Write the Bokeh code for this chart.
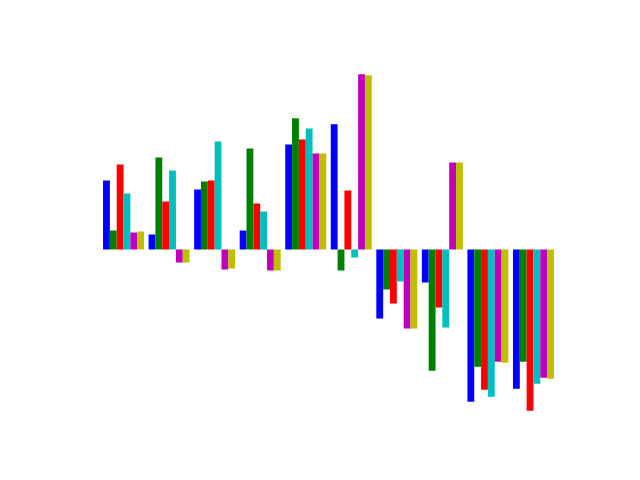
from bokeh.plotting import figure
from bokeh.models import ColumnDataSource, Range1d
from bokeh.transform import dodge
from bokeh.embed import file_html
from bokeh.resources import INLINE

groups = [0, 1, 2, 3, 4, 5, 6, 7, 8, 9]
series_b = [69, 15, 60, 19, 105, 125, -69, -33, -152, -139]
series_g = [19, 92, 68, 101, 131, -21, -40, -121, -117, -112]
series_r = [85, 48, 69, 46, 110, 59, -54, -58, -140, -161]
series_c = [56, 79, 108, 38, 121, -8, -32, -78, -147, -134]
series_m = [17, -13, -20, -21, 96, 175, -79, 87, -112, -128]
series_y = [18, -13, -19, -21, 96, 174, -79, 87, -113, -129]

series = [series_b, series_g, series_r, series_c, series_m, series_y]
colors = ["#0000ff", "#008000", "#ff0000", "#00bfbf", "#bf00bf", "#bfbf00"]
bar_w = 0.15

data = {"x": groups}
for j, s in enumerate(series):
    data[f"s{j}"] = s
source = ColumnDataSource(data)

p = figure(width=640, height=480, frame_width=496, frame_height=370,
           min_border_left=80, min_border_right=64, min_border_top=57, min_border_bottom=53,
           output_backend="svg", toolbar_location=None,
           x_range=Range1d(-0.57, 10.32), y_range=Range1d(-177.8, 191.8))
p.axis.visible = False
p.grid.visible = False
p.outline_line_color = None
p.background_fill_color = "white"
p.border_fill_color = "white"

for j, c in enumerate(colors):
    p.vbar(x=dodge("x", j * bar_w, range=p.x_range), top=f"s{j}", bottom=0,
           width=bar_w, source=source, fill_color=c, line_color=None)

open("out.html", "w").write(file_html(p, INLINE))
